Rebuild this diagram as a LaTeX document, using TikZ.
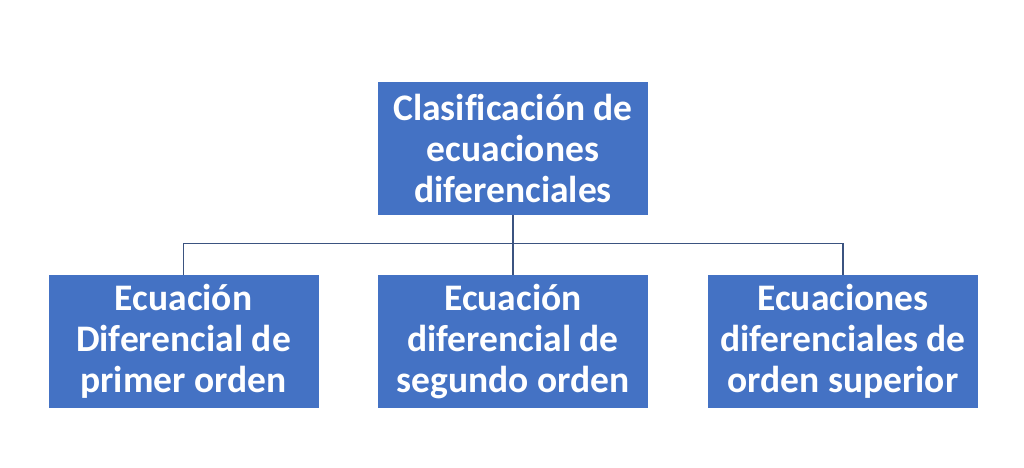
\documentclass[tikz,border=0pt]{standalone}
\usepackage{fontspec}
\setmainfont{Carlito}[Ligatures=NoCommon]
\definecolor{boxblue}{HTML}{4472C4}
\definecolor{linkcol}{HTML}{3B5380}
\begin{document}
\begin{tikzpicture}[x=1pt,y=-1pt,
  box/.style={draw=none,fill=boxblue,text=white,minimum width=270pt,minimum height=133pt,
    inner sep=0pt,align=center,font=\fontsize{37.5}{41}\selectfont\bfseries},
  link/.style={draw=linkcol,line width=1.3pt}]
\useasboundingbox[fill=white] (0,0) rectangle (1024,467);
\node[box] (top) at (513,148.5) {Clasificación de\\ecuaciones\\diferenciales};
\node[box] (l) at (183.5,341.5) {Ecuación\\Diferencial de\\primer orden};
\node[box] (m) at (513,341.5) {Ecuación\\diferencial de\\segundo orden};
\node[box] (r) at (843,341.5) {Ecuaciones\\diferenciales de\\orden superior};
\coordinate (j) at (513,243.5);
\draw[link] (top.south) -- (m.north);
\draw[link] (l.north) -- (l.north |- j) -- (r.north |- j) -- (r.north);
\end{tikzpicture}
\end{document}
